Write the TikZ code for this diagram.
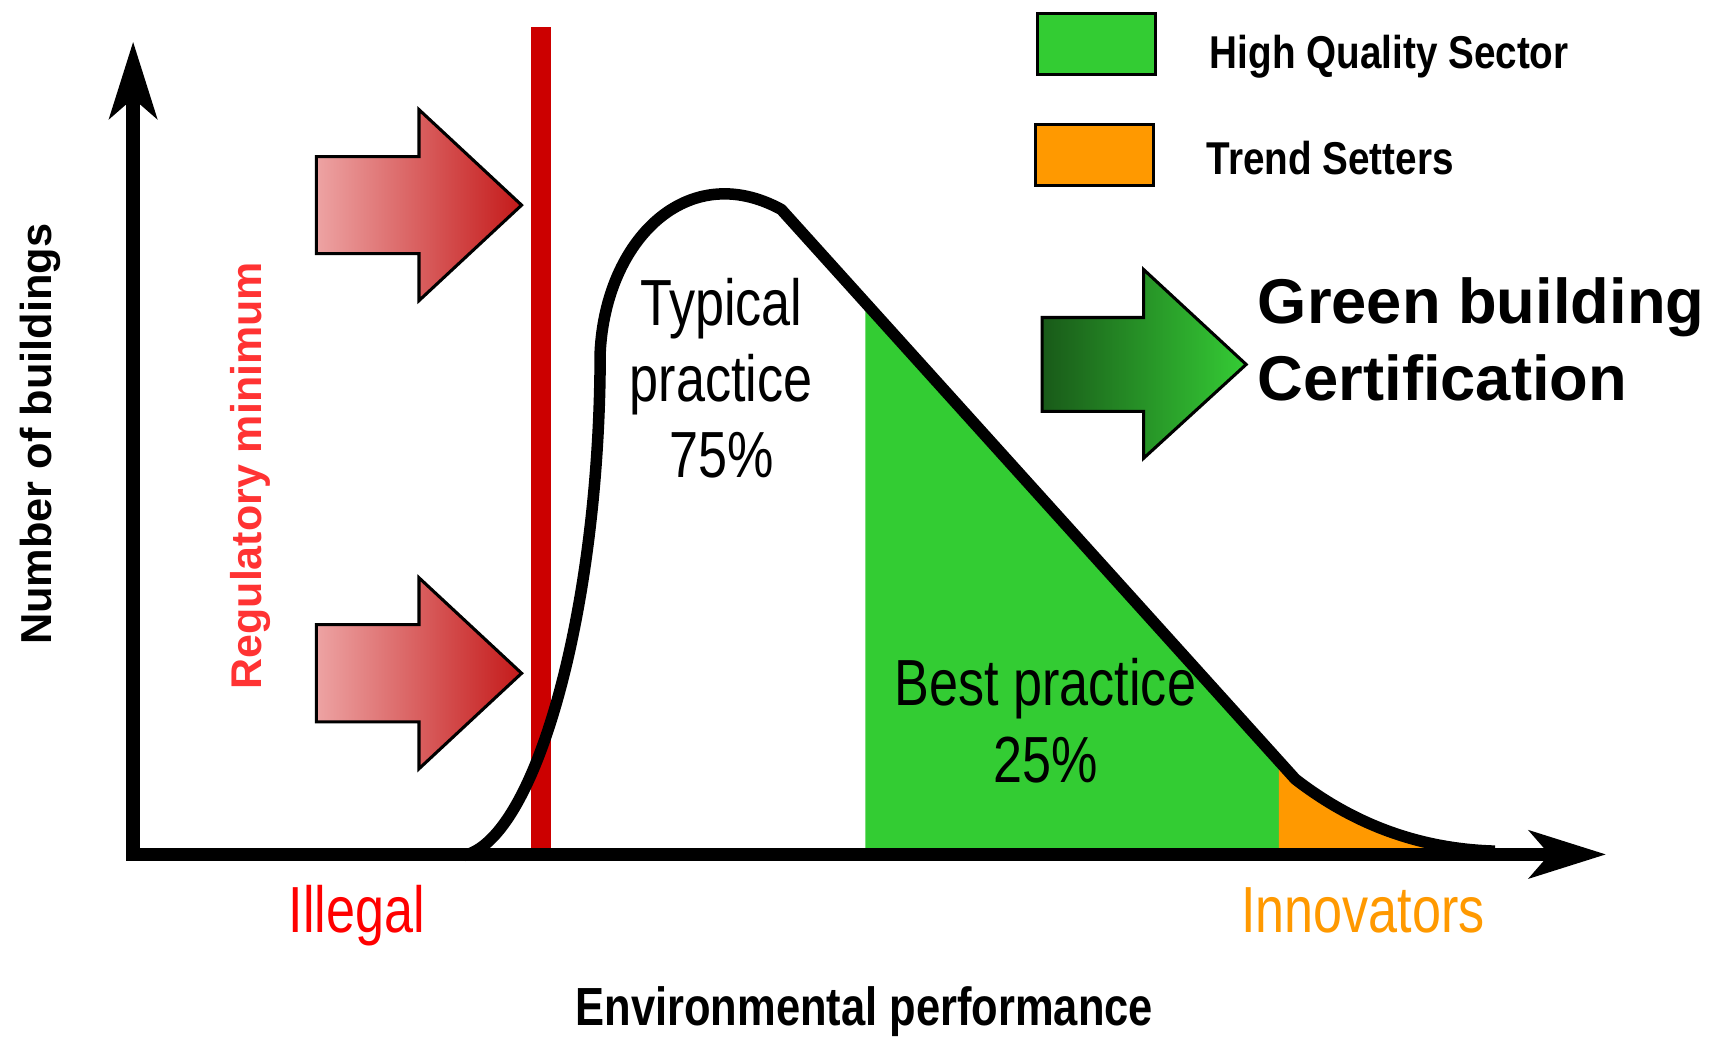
\documentclass[tikz,border=0pt]{standalone}
\usepackage{fontspec}
\setmainfont{Liberation Sans}
\newfontfamily\narrowfont[FakeStretch=0.80]{Liberation Sans}
\newfontfamily\narrowbold[FakeStretch=0.84]{Liberation Sans}
\newfontfamily\narrowerbold[FakeStretch=0.81]{Liberation Sans}
\usetikzlibrary{arrows.meta}

\definecolor{hqgreen}{HTML}{33CC33}
\definecolor{trendorange}{HTML}{FF9900}
\definecolor{regred}{HTML}{CC0000}
\definecolor{labelred}{HTML}{FF3333}
\definecolor{pushlight}{HTML}{EDA3A3}
\definecolor{pushdark}{HTML}{C41A1A}
\definecolor{certdark}{HTML}{195A19}
\definecolor{certlight}{HTML}{35CC35}

% market curve: rise past the regulation line, plateau, linear fall, tail
\def\marketcurve{(4.25,1.66) .. controls (4.90,1.80) and (5.50,3.90) .. (5.50,6.27)
  .. controls (5.55,7.30) and (6.30,8.05) .. (7.16,7.58)
  -- (11.87,2.36)
  .. controls (12.40,1.95) and (13.00,1.72) .. (13.70,1.70)}

\tikzset{
  axisline/.style={line width=3.6pt, line join=miter},
  regline/.style={line width=5.3pt, regred},
  curveline/.style={line width=3pt, line join=round},
  bigarrow/.style={line width=0.8pt, draw=black},
  swatch/.style={line width=0.8pt, draw=black},
  legendtext/.style={font=\narrowbold\bfseries\fontsize{12}{14}\selectfont, anchor=base west, inner sep=0pt},
  sharetext/.style={font=\narrowfont\fontsize{17}{19.9}\selectfont, align=center, anchor=north, inner sep=0pt},
  ticktext/.style={font=\narrowfont\fontsize{17}{20}\selectfont, anchor=base, inner sep=0pt}
}

\begin{document}
\begin{tikzpicture}
  \useasboundingbox (0,0) rectangle (15.68,9.50);

  % shaded sectors under the curve
  \begin{scope}
    \clip (7.93,1.6) rectangle (11.72,9);
    \fill[hqgreen] \marketcurve -- (13.70,1.67) -- (4.25,1.67) -- cycle;
  \end{scope}
  \begin{scope}
    \clip (11.72,1.6) rectangle (14.5,9);
    \fill[trendorange] \marketcurve -- (13.70,1.67) -- (4.25,1.67) -- cycle;
  \end{scope}

  % regulatory minimum
  \draw[regline] (4.96,9.25) -- (4.96,1.72);

  % pushing arrows
  \foreach \ty in {7.62,3.33}
    \draw[bigarrow, left color=pushlight, right color=pushdark]
      (2.90,\ty+0.445) -- (3.84,\ty+0.445) -- (3.84,\ty+0.875) -- (4.78,\ty)
      -- (3.84,\ty-0.875) -- (3.84,\ty-0.445) -- (2.90,\ty-0.445) -- cycle;

  \draw[bigarrow, left color=certdark, right color=certlight]
    (9.55,6.59) -- (10.48,6.59) -- (10.48,7.03) -- (11.42,6.16)
    -- (10.48,5.30) -- (10.48,5.73) -- (9.55,5.73) -- cycle;

  \draw[curveline] \marketcurve;

  % axes
  \draw[axisline, arrows={Stealth[length=7mm,width=4.3mm,inset=1.8mm]-Stealth[length=7mm,width=4.3mm,inset=1.8mm]}]
    (1.22,9.12) -- (1.22,1.67) -- (14.72,1.67);

  % legend
  \draw[swatch, fill=hqgreen] (9.51,8.82) rectangle (10.59,9.38);
  \draw[swatch, fill=trendorange] (9.49,7.80) rectangle (10.57,8.36);
  \node[legendtext] (hqlabel) at (11.08,8.87) {High Quality Sector};
  \node[legendtext] (trendlabel) at (11.05,7.90) {Trend Setters};

  \node[font=\bfseries\fontsize{16.5}{19.9}\selectfont, align=left, anchor=north west, inner sep=0pt]
    (cert) at (11.52,6.96) {Green building\\Certification};

  \node[sharetext] (typical) at (6.61,6.96) {Typical\\practice\\75\%};
  \node[sharetext] (best) at (9.58,3.47) {Best practice\\25\%};

  \node[ticktext, text=red] (illegal) at (3.27,0.95) {Illegal};
  \node[ticktext, text=trendorange] (innov) at (12.49,0.95) {Innovators};

  \node[font=\bfseries\fontsize{11.3}{13}\selectfont, rotate=90, anchor=base, inner sep=0pt]
    (ylabel) at (0.47,5.52) {Number of buildings};
  \node[font=\bfseries\fontsize{11.2}{13}\selectfont, text=labelred, rotate=90, anchor=base, inner sep=0pt]
    (reglabel) at (2.40,5.14) {Regulatory minimum};
  \node[font=\narrowerbold\bfseries\fontsize{14}{16}\selectfont, anchor=base, inner sep=0pt]
    (xlabel) at (7.92,0.10) {Environmental performance};
\end{tikzpicture}
\end{document}
